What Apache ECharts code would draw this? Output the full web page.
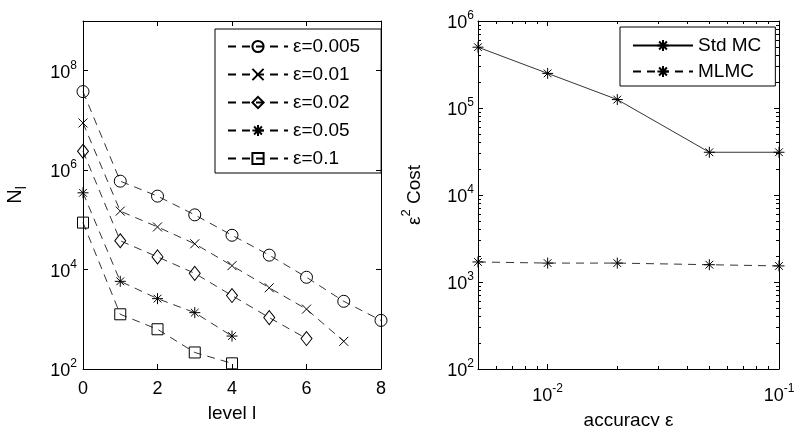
<!DOCTYPE html>
<html>
<head>
<meta charset="utf-8">
<script src="https://cdn.jsdelivr.net/npm/echarts@6/dist/echarts.min.js"></script>
<style>
  html, body { margin: 0; padding: 0; background: #fff; }
  #main { width: 797px; height: 426px; }
</style>
</head>
<body>
<div id="main"></div>
<script>
// 左图：每层样本数 N_l
var levels = [0, 1, 2, 3, 4, 5, 6, 7, 8];
var nEps005 = [3.8e7, 6.0e5, 3.0e5, 1.26e5, 4.9e4, 1.95e4, 7.0e3, 2.3e3, 950];
var nEps01 = [8.9e6, 1.5e5, 7.2e4, 3.3e4, 1.2e4, 4.3e3, 1.6e3, 360];
var nEps02 = [2.4e6, 3.8e4, 1.8e4, 8.4e3, 3.0e3, 1.08e3, 410];
var nEps05 = [3.5e5, 5.8e3, 2.6e3, 1.36e3, 460];
var nEps1 = [8.8e4, 1.26e3, 630, 215, 130];

// 右图：ε² Cost
var accuracy = [0.005, 0.01, 0.02, 0.05, 0.1];
var stdMC = [5.0e5, 2.5e5, 1.25e5, 3.1e4, 3.1e4];
var mlmc = [1.7e3, 1.65e3, 1.65e3, 1.58e3, 1.53e3];

// 刻度
var levelTicks = [0, 2, 4, 6, 8];
var nlTicks = [1e2, 1e4, 1e6, 1e8];
var costTicks = [1e2, 1e3, 1e4, 1e5, 1e6];
var accTicks = [0.01, 0.1];
var mantissas = [2, 3, 4, 5, 6, 7, 8, 9];

function minorTicks(decades, lo, hi) {
  var out = [];
  decades.forEach(function (d) {
    mantissas.forEach(function (m) {
      var v = +(m * d).toPrecision(6);
      if (v >= lo && v <= hi) out.push(v);
    });
  });
  return out;
}
var costMinor = minorTicks([1e2, 1e3, 1e4, 1e5], 1e2, 1e6);
var accMinor = minorTicks([1e-3, 1e-2], 0.005, 0.1);

function pairs(xs, ys) {
  return ys.map(function (y, i) { return [xs[i], y]; });
}

var font = 'Liberation Sans';
function powLabel(v) {
  var e = Math.round(Math.log(v) / Math.LN10);
  return '{b|10}{s|' + e + '}';
}
var powRich = {
  b: { fontSize: 18, fontFamily: font, color: '#000', lineHeight: 22, verticalAlign: 'bottom' },
  s: { fontSize: 12, fontFamily: font, color: '#000', lineHeight: 13, verticalAlign: 'top' }
};

// 黑色坐标轴（主刻度 / 次刻度 / 镜像边）
function axis(o) {
  var a = {
    gridIndex: o.grid,
    type: o.type,
    min: o.min,
    max: o.max,
    position: o.position,
    axisLine: { show: o.line !== false, onZero: false, lineStyle: { color: '#000', width: 1 } },
    axisTick: { show: true, inside: true, length: o.tickLen || 5, lineStyle: { color: '#000', width: 1 } },
    axisLabel: { show: !!o.labels, color: '#000', fontSize: 18, fontFamily: font, margin: o.margin || 6 },
    splitLine: { show: false },
    z: 5
  };
  if (o.interval) a.interval = o.interval;
  if (o.ticks) a.axisTick.customValues = o.ticks;
  if (o.labels && o.type === 'log') {
    a.axisLabel.customValues = o.labels;
    a.axisLabel.formatter = powLabel;
    a.axisLabel.rich = powRich;
  }
  if (o.name) {
    a.name = o.name;
    a.nameLocation = 'middle';
    a.nameGap = o.nameGap;
    a.nameRotate = o.nameRotate;
    a.nameTextStyle = Object.assign({ fontSize: 19, fontFamily: font, color: '#000' }, o.nameStyle || {});
  }
  return a;
}

var dashed = [8, 6];
function sym(name, symbol, size, x, y, xi, yi, lineType) {
  return {
    name: name,
    type: 'line',
    xAxisIndex: xi,
    yAxisIndex: yi,
    data: pairs(x, y),
    symbol: symbol,
    symbolSize: size,
    lineStyle: { color: '#000', width: 0.8, type: lineType },
    itemStyle: { color: 'rgba(0,0,0,0)', borderColor: '#000', borderWidth: 1 },
    emphasis: { disabled: true },
    z: 3
  };
}

var crossPath = 'path://M0,0L10,10M10,0L0,10';
var starPath = 'path://M5,0L5,10M0,5L10,5M1.5,1.5L8.5,8.5M8.5,1.5L1.5,8.5';

var legendText = { fontSize: 19, fontFamily: font, color: '#000' };

var option = {
  backgroundColor: '#fff',
  animation: false,
  textStyle: { fontFamily: font },
  grid: [
    { left: 83, top: 21, width: 298, height: 348, outerBoundsMode: 'none' },
    { left: 478, top: 21, width: 301, height: 348, outerBoundsMode: 'none' }
  ],
  legend: [{
    data: ['ε=0.005', 'ε=0.01', 'ε=0.02', 'ε=0.05', 'ε=0.1'],
    orient: 'vertical',
    left: 215,
    top: 29,
    itemWidth: 60,
    itemHeight: 14,
    itemGap: 9,
    padding: [8, 21, 5, 12],
    borderColor: '#000',
    borderWidth: 1,
    backgroundColor: '#fff',
    selectedMode: false,
    textStyle: legendText
  }, {
    data: ['Std MC', 'MLMC'],
    orient: 'vertical',
    left: 620,
    top: 27,
    itemWidth: 60,
    itemHeight: 14,
    itemGap: 7,
    padding: [9, 14, 5, 12],
    borderColor: '#000',
    borderWidth: 1,
    backgroundColor: '#fff',
    selectedMode: false,
    textStyle: legendText
  }],
  xAxis: [
    Object.assign(axis({ grid: 0, type: 'value', min: 0, max: 8, interval: 2, position: 'bottom',
      name: 'level l', nameGap: 35 }), { axisLabel: { color: '#000', fontSize: 18, fontFamily: font, margin: 11 } }),
    axis({ grid: 0, type: 'value', min: 0, max: 8, interval: 2, position: 'top' }),
    axis({ grid: 1, type: 'log', min: 0.005, max: 0.1, position: 'bottom', ticks: accTicks, labels: accTicks, margin: 14,
      name: 'accuracy ε', nameGap: 42 }),
    axis({ grid: 1, type: 'log', min: 0.005, max: 0.1, position: 'bottom', ticks: accMinor, tickLen: 3, line: false }),
    axis({ grid: 1, type: 'log', min: 0.005, max: 0.1, position: 'top', ticks: accTicks }),
    axis({ grid: 1, type: 'log', min: 0.005, max: 0.1, position: 'top', ticks: accMinor, tickLen: 3, line: false })
  ],
  yAxis: [
    axis({ grid: 0, type: 'log', min: 1e2, max: 1e9, position: 'left', ticks: nlTicks, labels: nlTicks,
      name: '{n|N}{l|l}', nameGap: 54, nameRotate: 90,
      nameStyle: { rich: { n: { fontSize: 20, fontFamily: font, color: '#000', lineHeight: 24, verticalAlign: 'top' },
                           l: { fontSize: 14, fontFamily: font, color: '#000', lineHeight: 16, verticalAlign: 'bottom' } } } }),
    axis({ grid: 0, type: 'log', min: 1e2, max: 1e9, position: 'right', ticks: nlTicks }),
    axis({ grid: 1, type: 'log', min: 1e2, max: 1e6, position: 'left', ticks: costTicks, labels: costTicks, margin: 4,
      name: '{e|ε}{s|2}{e| Cost}', nameGap: 54, nameRotate: 90,
      nameStyle: { rich: { e: { fontSize: 19, fontFamily: font, color: '#000', lineHeight: 24, verticalAlign: 'bottom' },
                           s: { fontSize: 13, fontFamily: font, color: '#000', lineHeight: 15, verticalAlign: 'top' } } } }),
    axis({ grid: 1, type: 'log', min: 1e2, max: 1e6, position: 'left', ticks: costMinor, tickLen: 3, line: false }),
    axis({ grid: 1, type: 'log', min: 1e2, max: 1e6, position: 'right', ticks: costTicks }),
    axis({ grid: 1, type: 'log', min: 1e2, max: 1e6, position: 'right', ticks: costMinor, tickLen: 3, line: false })
  ],
  series: [
    sym('ε=0.005', 'circle', 12, levels, nEps005, 0, 0, dashed),
    sym('ε=0.01', crossPath, 9, levels, nEps01, 0, 0, dashed),
    sym('ε=0.02', 'diamond', [11, 14], levels, nEps02, 0, 0, dashed),
    sym('ε=0.05', starPath, 11, levels, nEps05, 0, 0, dashed),
    sym('ε=0.1', 'rect', 11, levels, nEps1, 0, 0, dashed),
    sym('Std MC', starPath, 11, accuracy, stdMC, 2, 2, 'solid'),
    sym('MLMC', starPath, 11, accuracy, mlmc, 2, 2, dashed)
  ]
};

var myChart = echarts.init(document.getElementById('main'));
myChart.setOption(option);
</script>
</body>
</html>
